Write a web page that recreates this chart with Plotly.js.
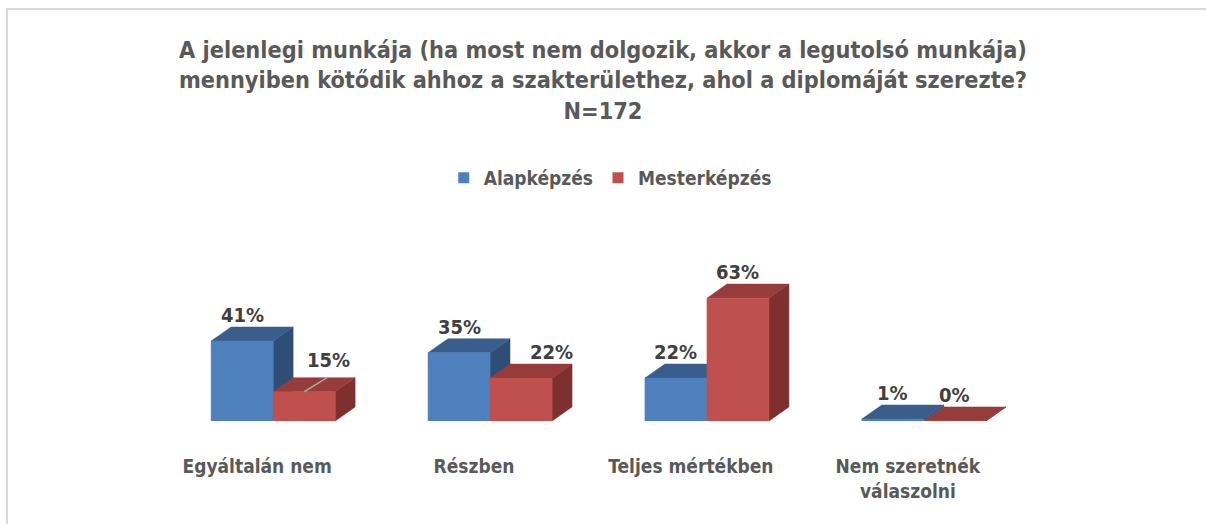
<!DOCTYPE html>
<html>
<head>
<meta charset="utf-8">
<script src="https://cdn.plot.ly/plotly-3.0.1.min.js"></script>
<style>
html,body{margin:0;padding:0;background:#fff;}
#frame{position:absolute;left:6px;top:8px;width:1200px;height:516px;border-left:2px solid #d9d9d9;border-top:2px solid #d9d9d9;box-sizing:border-box;pointer-events:none;}
#chart{position:absolute;left:0;top:0;width:1206px;height:524px;}
</style>
</head>
<body>
<div id="chart"></div>
<div id="frame"></div>
<script>
// ---- data ----
const categories = ['Egyáltalán nem', 'Részben', 'Teljes mértékben', 'Nem szeretnék<br>válaszolni'];
const seriesNames = ['Alapképzés', 'Mesterképzés'];
const alapkepzes = [41, 35, 22, 1];
const mesterkepzes = [15, 22, 63, 0];

// ---- styling ----
const FONT = '"Liberation Sans Narrow", "DejaVu Sans Condensed", "Open Sans", sans-serif';
const colors = [
  {front: '#4E80BD', top: '#395E8C', side: '#2F4E76'},
  {front: '#C0504D', top: '#963C3A', side: '#7D302E'}
];
const halfW = 0.143;     // half bar width in category units
const depthX = 0.092;    // 3D depth offset (x units)
const depthY = 7.2;      // 3D depth offset (y units)
// pixel nudges of data labels (per series, per category), as in the original
const labelNudgeX = [[0, 0, 0, 0], [24, 30, 0, 0]];
const labelNudgeY = [[0, 0, 0, 0], [6, 0, 0, 0]];

const seriesValues = [alapkepzes, mesterkepzes];
const traces = [];

categories.forEach((cat, i) => {
  seriesValues.forEach((vals, s) => {
    const v = vals[i];
    const c = i + (s === 0 ? -halfW : halfW);
    const col = colors[s];
    // side face
    traces.push({
      type: 'scatter', mode: 'lines', fill: 'toself', hoverinfo: 'skip', showlegend: false,
      x: [c + halfW, c + halfW, c + halfW + depthX, c + halfW + depthX, c + halfW],
      y: [0, v, v + depthY, depthY, 0],
      fillcolor: col.side, line: {width: 0.5, color: col.side}
    });
    // top face
    traces.push({
      type: 'scatter', mode: 'lines', fill: 'toself', hoverinfo: 'skip', showlegend: false,
      x: [c - halfW, c + halfW, c + halfW + depthX, c - halfW + depthX, c - halfW],
      y: [v, v, v + depthY, v + depthY, v],
      fillcolor: col.top, line: {width: 0.5, color: col.top}
    });
    // front face
    traces.push({
      type: 'scatter', mode: 'lines', fill: 'toself', showlegend: false,
      name: seriesNames[s], text: categories[i].replace('<br>', ' ') + ': ' + v + '%', hoverinfo: 'text',
      x: [c - halfW, c + halfW, c + halfW, c - halfW, c - halfW],
      y: [0, 0, v, v, 0],
      fillcolor: col.front, line: {width: 0.5, color: col.front}
    });
  });
});

// leader line of the moved 15% label
traces.push({
  type: 'scatter', mode: 'lines', hoverinfo: 'skip', showlegend: false,
  x: [0 + halfW, 0 + halfW + depthX * 1.15],
  y: [mesterkepzes[0], mesterkepzes[0] + depthY],
  line: {color: '#A6A6A6', width: 1.5}
});

// legend entries
seriesNames.forEach((n, s) => {
  traces.push({
    type: 'scatter', mode: 'markers', name: n, x: [null], y: [null],
    marker: {symbol: 'square', size: 11, color: colors[s].front}, showlegend: true
  });
});

// data labels as annotations
const annotations = [];
seriesValues.forEach((vals, s) => {
  vals.forEach((v, i) => {
    annotations.push({
      x: i + (s === 0 ? -halfW : halfW), y: v + depthY, xref: 'x', yref: 'y',
      text: v + '%', showarrow: false, xanchor: 'center', yanchor: 'bottom',
      xshift: labelNudgeX[s][i], yshift: labelNudgeY[s][i] - 2,
      font: {family: FONT, size: 20, color: '#404040', weight: 'bold'}
    });
  });
});

const layout = {
  width: 1206, height: 524,
  paper_bgcolor: '#ffffff', plot_bgcolor: '#ffffff',
  margin: {l: 143, r: 152, t: 226, b: 103},
  showlegend: true,
  font: {family: FONT, color: '#595959'},
  title: {
    text: 'A jelenlegi munkája (ha most nem dolgozik, akkor a legutolsó munkája)<br>mennyiben kötődik ahhoz a szakterülethez, ahol a diplomáját szerezte?<br>N=172',
    x: 0.5, xanchor: 'center', xref: 'container',
    y: 1 - 58 / 524, yanchor: 'top', yref: 'container',
    font: {family: FONT, size: 23.3, color: '#595959', weight: 'bold'}
  },
  legend: {
    orientation: 'h', xref: 'container', yref: 'container',
    x: 0.506, xanchor: 'center', y: 1 - 178 / 524, yanchor: 'middle',
    font: {family: FONT, size: 19, color: '#595959', weight: 'bold'},
    itemwidth: 24, tracegroupgap: 0
  },
  annotations: annotations,
  xaxis: {
    range: [-0.6, 3.6], showgrid: false, zeroline: false, showline: false,
    tickmode: 'array', tickvals: categories.map((c, i) => i), ticktext: categories,
    ticks: '', ticklabelshift: -16, ticklabelstandoff: 32,
    tickfont: {family: FONT, size: 19, color: '#595959', weight: 'bold'},
    fixedrange: true
  },
  yaxis: {
    range: [0, 100], visible: false, showgrid: false, zeroline: false, fixedrange: true
  },
  hovermode: 'closest'
};

Plotly.newPlot('chart', traces, layout, {displayModeBar: false});
</script>
</body>
</html>
